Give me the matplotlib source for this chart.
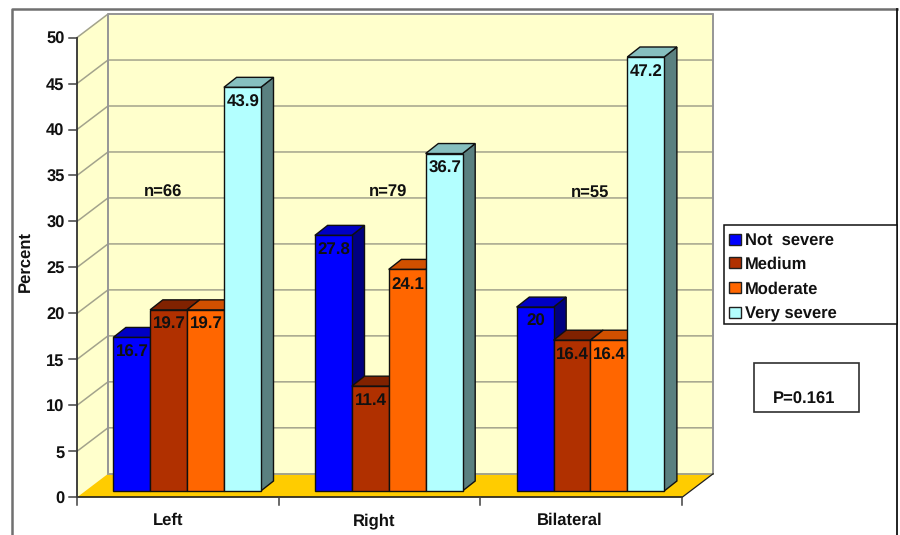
import matplotlib
matplotlib.use("Agg")
import matplotlib.pyplot as plt
from matplotlib.patches import Polygon, Rectangle

plt.rcParams['font.family'] = ['Liberation Sans', 'DejaVu Sans']
plt.rcParams['font.weight'] = 'bold'
plt.rcParams['text.hinting'] = 'none'

groups = ['Left', 'Right', 'Bilateral']
group_n = ['n=66', 'n=79', 'n=55']
series = ['Not  severe', 'Medium', 'Moderate', 'Very severe']
not_severe = [16.7, 27.8, 20]
medium = [19.7, 11.4, 16.4]
moderate = [19.7, 24.1, 16.4]
very_severe = [43.9, 36.7, 47.2]
yticks = [0, 5, 10, 15, 20, 25, 30, 35, 40, 45, 50]

face_cols = ['#0000ff', '#b03000', '#ff6600', '#b3ffff']
side_cols = ['#000080', '#581800', '#803300', '#5a8080']
top_cols = ['#0000c4', '#802200', '#d05000', '#86bfbf']

# one axes over the whole figure: x in groups, y in percent
W, H = 900, 535
px_x = 201.7    # pixels per group
px_y = 9.195    # pixels per percent
x0, y0 = 77, 497.3

fig = plt.figure(figsize=(W/100, H/100), dpi=100)
ax = fig.add_axes([0, 0, 1, 1])
ax.set_xlim(-x0/px_x, (W-x0)/px_x)
ax.set_ylim(-(H-y0)/px_y, y0/px_y)
ax.axis('off')

def dx(p):
  return p/px_x

def dy(p):
  return p/px_y

def at_x(p):
  return (p-x0)/px_x

def at_y(p):
  return (y0-p)/px_y

# offset of the back wall, and of the depth of a bar
wall_x, wall_y = dx(31), dy(23.5)
bar_dx, bar_dy = dx(12.7), dy(10)
bar_w = dx(36.9)
floor_y = dy(6.3)
top = yticks[-1]
n_groups = len(groups)
txt = '#111111'

def poly(pts, fc, ec='none', lw=0, z=1):
  ax.add_patch(Polygon(pts, closed=True, fc=fc, ec=ec, lw=lw, zorder=z, joinstyle='miter'))

# frame round the chart
frame_l, frame_r = at_x(11.5), at_x(897)
frame_t, frame_b = at_y(9), at_y(H+5)
ax.plot([frame_l, frame_l, frame_r], [frame_b, frame_t, frame_t], color='#707070', lw=1.8, zorder=1)
ax.plot([frame_r, frame_r], [frame_t, frame_b], color='#101010', lw=1.3, zorder=1)

# walls and floor
poly([(0, 0), (wall_x, wall_y), (wall_x, top+wall_y), (0, top)], '#ffffcc')
poly([(wall_x, wall_y), (n_groups+wall_x, wall_y), (n_groups+wall_x, top+wall_y), (wall_x, top+wall_y)], '#ffffcc')
poly([(0, 0), (n_groups, 0), (n_groups+wall_x, wall_y), (wall_x, wall_y)], '#ffcc00')

grid_col = '#a3a38c'
for v in yticks[1:]:
  ax.plot([0, wall_x, n_groups+wall_x], [v, v+wall_y, v+wall_y], color=grid_col, lw=1.1, zorder=2)
ax.plot([wall_x, wall_x, n_groups+wall_x, n_groups+wall_x], [wall_y, top+wall_y, top+wall_y, wall_y],
  color='#969696', lw=1.4, zorder=2)
ax.plot([wall_x, n_groups+wall_x], [wall_y, wall_y], color='#a3a38c', lw=1.4, zorder=2)
ax.plot([n_groups, n_groups+wall_x], [0, wall_y], color='#202020', lw=0.9, zorder=2)

# axis lines and ticks
ax.plot([0, 0], [0, top], color='#202020', lw=1.2, zorder=6)
ax.plot([0, n_groups], [0, 0], color='#202020', lw=1.2, zorder=6)
for v in yticks:
  ax.plot([dx(-8), 0], [v, v], color='#404040', lw=1.1, zorder=6)
  ax.text(dx(-12.5), v, str(v), ha='right', va='center_baseline', fontsize=11.9, color=txt, zorder=6)
for i in range(n_groups+1):
  ax.plot([i, i], [0, dy(-8)], color='#404040', lw=1.1, zorder=6)

# bars, painted left to right so each one hides the side of the last
all_vals = [not_severe, medium, moderate, very_severe]
bar_start = dx(36.2)
for g in range(n_groups):
  for s, vals in enumerate(all_vals):
    v = vals[g]
    l = g + bar_start + s*bar_w
    r = l + bar_w
    b = floor_y
    t = v + floor_y
    z = 3
    poly([(r, b), (r+bar_dx, b+bar_dy), (r+bar_dx, t+bar_dy), (r, t)], side_cols[s], '#101010', 1.0, z)
    poly([(l, t), (r, t), (r+bar_dx, t+bar_dy), (l+bar_dx, t+bar_dy)], top_cols[s], '#101010', 1.0, z)
    poly([(l, b), (r, b), (r, t), (l, t)], face_cols[s], '#101010', 1.0, z)
    ax.text((l+r)/2+dx(0.5), t-dy(13), '%g' % v, ha='center', va='center_baseline', fontsize=12.2,
      color=txt, zorder=5)

# group captions and n counts, placed by hand on the chart
caption_x = [168, 374, 570]
count_x = [163, 388, 590]
for g in range(n_groups):
  ax.text(at_x(caption_x[g]), at_y(525), groups[g], ha='center', va='baseline', fontsize=12, color=txt)
  ax.text(at_x(count_x[g]), at_y(197), group_n[g], ha='center', va='baseline', fontsize=12,
    color=txt, zorder=2)

ax.text(at_x(25), at_y(261), 'Percent', rotation=90, ha='center', va='center', fontsize=12, color=txt)

# legend
leg_l, leg_r = at_x(724), at_x(897)
leg_t, leg_b = at_y(225), at_y(324)
ax.add_patch(Rectangle((leg_l, leg_b), leg_r-leg_l, leg_t-leg_b, fc='white', ec='#101010', lw=1.1, zorder=7))
leg_rows = [239, 262.5, 287.5, 312.5]
for s, name in enumerate(series):
  yc = at_y(leg_rows[s])
  ax.add_patch(Rectangle((at_x(729), yc-dy(5.5)), dx(11.5), dy(11), fc=face_cols[s], ec='#202020', lw=1, zorder=8))
  ax.text(at_x(745), yc, name, ha='left', va='center_baseline', fontsize=11.9, color=txt, zorder=8)

# p value box
ax.add_patch(Rectangle((at_x(754), at_y(412)), dx(105), dy(49), fc='white', ec='#303030', lw=1.2, zorder=7))
ax.text(at_x(804.5), at_y(398), 'P=0.161', ha='center', va='center_baseline', fontsize=12, color=txt, zorder=8)

fig.savefig('out.png', dpi=100)
